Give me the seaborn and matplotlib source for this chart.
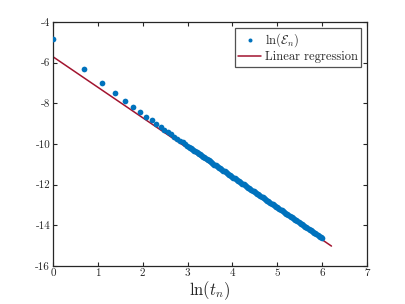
import numpy as np
import pandas as pd
import matplotlib
matplotlib.use("Agg")
import matplotlib.pyplot as plt
import seaborn as sns

# scatter data: ln(t_n) and ln(E_n)
x_head = [0.0, 0.693, 1.099, 1.386, 1.609, 1.792, 1.946, 2.079, 2.197, 2.303,
          2.398, 2.485, 2.565, 2.639, 2.708, 2.773, 2.833, 2.890, 2.944, 2.996]
y_head = [-4.85, -6.31, -7.02, -7.48, -7.87, -8.17, -8.43, -8.66, -8.84, -9.02,
          -9.16, -9.30, -9.42, -9.53, -9.64, -9.74, -9.83, -9.92, -10.00, -10.08]
x_tail = [3.025, 3.050, 3.075, 3.100, 3.125, 3.150, 3.175, 3.200, 3.225, 3.250,
          3.275, 3.300, 3.325, 3.350, 3.375, 3.400, 3.425, 3.450, 3.475, 3.500,
          3.525, 3.550, 3.575, 3.600, 3.625, 3.650, 3.675, 3.700, 3.725, 3.750,
          3.775, 3.800, 3.825, 3.850, 3.875, 3.900, 3.925, 3.950, 3.975, 4.000,
          4.025, 4.050, 4.075, 4.100, 4.125, 4.150, 4.175, 4.200, 4.225, 4.250,
          4.275, 4.300, 4.325, 4.350, 4.375, 4.400, 4.425, 4.450, 4.475, 4.500,
          4.525, 4.550, 4.575, 4.600, 4.625, 4.650, 4.675, 4.700, 4.725, 4.750,
          4.775, 4.800, 4.825, 4.850, 4.875, 4.900, 4.925, 4.950, 4.975, 5.000,
          5.025, 5.050, 5.075, 5.100, 5.125, 5.150, 5.175, 5.200, 5.225, 5.250,
          5.275, 5.300, 5.325, 5.350, 5.375, 5.400, 5.425, 5.450, 5.475, 5.500,
          5.525, 5.550, 5.575, 5.600, 5.625, 5.650, 5.675, 5.700, 5.725, 5.750,
          5.775, 5.800, 5.825, 5.850, 5.875, 5.900, 5.925, 5.950, 5.975, 5.990]
y_tail = [-10.14, -10.18, -10.21, -10.25, -10.29, -10.33, -10.36, -10.40, -10.44, -10.48,
          -10.51, -10.55, -10.59, -10.63, -10.66, -10.70, -10.74, -10.78, -10.81, -10.85,
          -10.90, -10.94, -10.97, -11.01, -11.05, -11.09, -11.12, -11.16, -11.20, -11.24,
          -11.27, -11.31, -11.35, -11.39, -11.42, -11.46, -11.50, -11.54, -11.57, -11.61,
          -11.65, -11.69, -11.72, -11.76, -11.80, -11.84, -11.87, -11.91, -11.95, -11.99,
          -12.03, -12.07, -12.11, -12.15, -12.18, -12.22, -12.26, -12.30, -12.33, -12.37,
          -12.41, -12.45, -12.48, -12.52, -12.56, -12.60, -12.63, -12.67, -12.71, -12.75,
          -12.78, -12.82, -12.86, -12.90, -12.93, -12.97, -13.01, -13.05, -13.08, -13.12,
          -13.16, -13.20, -13.23, -13.27, -13.31, -13.35, -13.38, -13.42, -13.46, -13.50,
          -13.53, -13.57, -13.61, -13.65, -13.68, -13.72, -13.76, -13.80, -13.83, -13.87,
          -13.91, -13.95, -13.98, -14.02, -14.06, -14.10, -14.13, -14.17, -14.21, -14.25,
          -14.28, -14.32, -14.36, -14.40, -14.43, -14.47, -14.51, -14.55, -14.58, -14.61]

# regression line endpoints
x_fit = [0.0, 6.21]
y_fit = [-5.71, -15.02]

x_ticks = [0, 1, 2, 3, 4, 5, 6, 7]
y_ticks = [-16, -14, -12, -10, -8, -6, -4]

sns.set_style("ticks")
plt.rcParams['font.family'] = ['cmr10', 'DejaVu Serif']
plt.rcParams['mathtext.fontset'] = 'cm'
plt.rcParams['axes.formatter.use_mathtext'] = True

fig = plt.figure(figsize=(4.05, 3.04), dpi=100)
ax = fig.add_axes([0.1309, 0.125, 0.775, 0.8026])

df_pts = pd.DataFrame({"x": x_head + x_tail, "y": y_head + y_tail})
df_fit = pd.DataFrame({"x": x_fit, "y": y_fit})

sns.scatterplot(data=df_pts, x="x", y="y", ax=ax, color="#0072BD", s=17,
                linewidth=0, label=r"$\ln(\mathcal{E}_n)$", zorder=3)
sns.lineplot(data=df_fit, x="x", y="y", ax=ax, color="#A2142F", linewidth=1.1,
             label="Linear regression", zorder=2)

ax.set_xlim(0, 7)
ax.set_ylim(-16, -4)
ax.set_xticks(x_ticks)
ax.set_xticklabels([str(v) for v in x_ticks])
ax.set_yticks(y_ticks)
ax.set_yticklabels([str(v) for v in y_ticks])
ax.tick_params(direction="in", length=3, width=0.8, top=True, right=True,
               labelsize=8, colors="#262626", pad=2)
for sp in ax.spines.values():
    sp.set_visible(True)
    sp.set_linewidth(0.9)
    sp.set_color("#262626")

ax.set_xlabel(r"$\ln(t_n)$", fontsize=12, color="#262626", labelpad=1)
ax.set_ylabel("")

leg = ax.legend(loc="upper right", fontsize=9, frameon=True, fancybox=False,
                edgecolor="#262626", borderpad=0.3, handlelength=1.8,
                handletextpad=0.3, labelspacing=0.15, borderaxespad=0.45,
                markerscale=0.7)
leg.get_frame().set_linewidth(0.9)

fig.savefig("out.png", dpi=100)
